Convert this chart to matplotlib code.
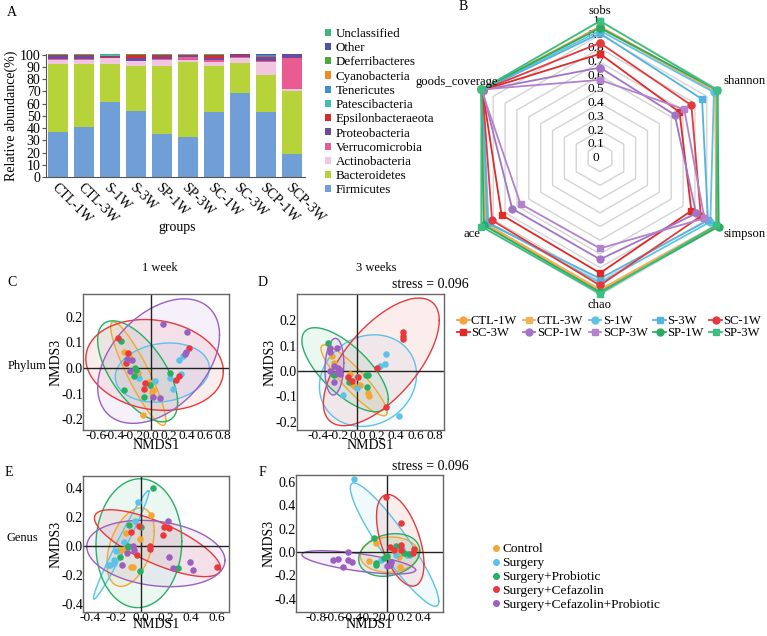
import numpy as np
import matplotlib
matplotlib.use('Agg')
import matplotlib.pyplot as plt
from matplotlib.lines import Line2D

plt.rcParams['font.family'] = ['Liberation Serif', 'DejaVu Serif']
plt.rcParams['axes.unicode_minus'] = False

# ---------------- Panel A data ----------------
groups = ['CTL-1W', 'CTL-3W', 'S-1W', 'S-3W', 'SP-1W', 'SP-3W', 'SC-1W', 'SC-3W', 'SCP-1W', 'SCP-3W']
phyla = ['Firmicutes', 'Bacteroidetes', 'Actinobacteria', 'Verrucomicrobia', 'Proteobacteria',
         'Epsilonbacteraeota', 'Patescibacteria', 'Tenericutes', 'Cyanobacteria',
         'Deferribacteres', 'Other', 'Unclassified']
firmicutes = [37.0, 41.0, 61.0, 54.0, 35.5, 33.0, 53.0, 69.0, 53.0, 19.0]
bacteroidetes = [55.5, 51.5, 31.0, 37.0, 55.5, 61.0, 38.0, 24.0, 30.0, 51.0]
actinobacteria = [3.0, 3.0, 5.0, 3.5, 4.5, 1.5, 3.0, 4.0, 11.0, 1.5]
verrucomicrobia = [1.0, 1.0, 0.5, 0.5, 1.0, 2.5, 1.5, 1.0, 0.5, 26.0]
proteobacteria = [2.0, 2.0, 0.5, 2.5, 1.5, 0.5, 2.0, 1.0, 2.5, 2.0]
epsilonbacteraeota = [1.2, 1.2, 1.0, 2.0, 1.5, 1.0, 2.0, 0.5, 1.0, 0.3]
patescibacteria = [0.1, 0.1, 0.6, 0.4, 0.2, 0.6, 0.2, 0.2, 0.3, 0.1]
tenericutes = [0.05, 0.05, 0.1, 0.1, 0.1, 0.1, 0.1, 0.1, 1.5, 0.05]
cyanobacteria = [0.05] * 10
deferribacteres = [0.05] * 10
other = [0.1, 0.1, 0.1, 0.1, 0.1, 0.1, 0.1, 0.2, 0.3, 0.1]
unclassified = [0.05, 0.05, 0.3, 0.1, 0.1, 0.3, 0.1, 0.1, 0.1, 0.05]
phylum_values = [firmicutes, bacteroidetes, actinobacteria, verrucomicrobia, proteobacteria,
                 epsilonbacteraeota, patescibacteria, tenericutes, cyanobacteria,
                 deferribacteres, other, unclassified]
phylum_colors = ['#6f9fd6', '#b6d43a', '#f2c6e0', '#ea5b91', '#6b4aa0', '#d9282e',
                 '#3ec1b1', '#3d8fd0', '#f08a24', '#4aa83c', '#4f53a4', '#3fb57d']
abund_ticks = [0, 10, 20, 30, 40, 50, 60, 70, 80, 90, 100]

# ---------------- Panel B data ----------------
indices = ['sobs', 'shannon', 'simpson', 'chao', 'ace', 'goods_coverage']
series = ['CTL-1W', 'CTL-3W', 'S-1W', 'S-3W', 'SC-1W', 'SC-3W', 'SCP-1W', 'SCP-3W', 'SP-1W', 'SP-3W']
radar_values = [
    [0.96, 0.98, 0.99, 0.97, 0.97, 1.00],   # CTL-1W
    [0.95, 0.97, 0.98, 0.96, 0.96, 1.00],   # CTL-3W
    [0.93, 0.96, 0.93, 0.91, 0.94, 0.99],   # S-1W
    [0.91, 0.86, 0.91, 0.88, 0.95, 0.99],   # S-3W
    [0.84, 0.77, 0.85, 0.93, 0.91, 0.99],   # SC-1W
    [0.76, 0.67, 0.77, 0.84, 0.83, 0.99],   # SC-3W
    [0.66, 0.63, 0.81, 0.74, 0.74, 0.99],   # SCP-1W
    [0.57, 0.71, 0.88, 0.66, 0.67, 1.00],   # SCP-3W
    [0.95, 0.99, 1.00, 0.98, 0.98, 1.00],   # SP-1W
    [1.00, 0.99, 0.98, 0.99, 1.00, 1.00],   # SP-3W
]
radar_colors = ['#f3a43f', '#eeb25c', '#5ec3e6', '#55b3df', '#e5393e', '#e02a2a',
                '#a274c6', '#b283cc', '#2bab62', '#3cbf82']
radar_markers = ['o', 's'] * 5
radar_ticks = [0, 0.1, 0.2, 0.3, 0.4, 0.5, 0.6, 0.7, 0.8, 0.9, 1.0]
radar_ticklabels = ['0', '0.1', '0.2', '0.3', '0.4', '0.5', '0.6', '0.7', '0.8', '0.9', '1']

# ---------------- NMDS data ----------------
treat = ['Control', 'Surgery', 'Surgery+Probiotic', 'Surgery+Cefazolin', 'Surgery+Cefazolin+Probiotic']
treat_colors = ['#f2a735', '#5dc2e7', '#27b064', '#e8393c', '#9b5fc0']

# C: Phylum, 1 week
phy1_x = [[-0.30, -0.237, -0.144, -0.022, 0.022, 0.015, -0.081],
          [-0.126, 0.052, 0.356, 0.311, 0.341, 0.219, 0.244],
          [-0.33, -0.17, -0.163, -0.181, -0.004, -0.293, -0.07, 0.219],
          [-0.36, -0.256, -0.274, -0.059, -0.078, 0.422, 0.319, 0.281],
          [-0.263, -0.211, -0.226, 0.022, 0.107, 0.133, 0.404, 0.393, 0.385]]
phy1_y = [[0.063, 0.046, -0.020, -0.055, -0.085, -0.094, -0.183],
          [-0.039, -0.052, 0.046, 0.030, -0.025, -0.038, -0.084],
          [0.105, 0.0, -0.007, -0.033, -0.065, -0.088, -0.114, -0.018],
          [0.119, 0.059, 0.021, -0.059, -0.081, 0.080, -0.031, -0.046],
          [0.037, 0.031, -0.013, -0.114, -0.118, 0.174, 0.141, 0.063, 0.054]]
# ellipse: centre x, centre y, half x-extent, half y-extent, correlation
phy1_ell = [[-0.137, -0.022, 0.306, 0.203, -0.90],
            [0.13, -0.018, 0.522, 0.116, 0.15],
            [-0.144, -0.013, 0.444, 0.198, -0.62],
            [0.044, 0.012, 0.763, 0.178, -0.14],
            [0.089, 0.027, 0.676, 0.244, 0.42]]

# D: Phylum, 3 weeks
phy3_x = [[-0.263, -0.236, -0.075, -0.051, -0.031, 0.027, 0.106, 0.12],
          [0.0, 0.0, -0.144, 0.232, 0.284, 0.29, 0.431],
          [-0.304, -0.253, -0.236, 0.089, 0.106, 0.096, -0.082],
          [-0.092, -0.058, 0.01, 0.198, 0.472, 0.472, 0.465, 0.294],
          [-0.28, -0.28, -0.205, -0.239, -0.202, -0.178, -0.178, -0.212, -0.28, -0.236]]
phy3_y = [[0.059, 0.030, -0.013, -0.051, -0.059, -0.055, -0.086, -0.099],
          [-0.022, -0.068, -0.095, 0.021, 0.028, 0.066, -0.178],
          [0.112, -0.012, -0.017, -0.016, -0.016, -0.064, -0.042],
          [-0.022, -0.039, -0.022, 0.011, 0.155, 0.138, 0.125, -0.141],
          [0.089, 0.076, 0.089, 0.02, 0.011, 0.004, -0.012, -0.009, 0.0, -0.042]]
phy3_ell = [[-0.034, -0.037, 0.340, 0.140, -0.90],
            [0.109, -0.038, 0.499, 0.181, 0.13],
            [-0.126, 0.005, 0.444, 0.166, -0.70],
            [0.246, 0.036, 0.595, 0.252, 0.65],
            [-0.236, 0.017, 0.097, 0.112, 0.12]]

# E: Genus, 1 week
gen1_x = [[0.079, -0.119, -0.005, -0.138, -0.164, -0.077, -0.066],
          [-0.024, -0.045, -0.138, -0.198, -0.217, -0.262, -0.243, -0.217],
          [0.095, -0.098, 0.0, -0.103, -0.106, -0.164, 0.291, -0.005],
          [-0.019, -0.077, 0.180, 0.225, 0.175, 0.069, 0.074, -0.032, 0.603],
          [0.214, -0.063, -0.058, -0.111, 0.220, -0.151, 0.392, 0.410, 0.254]]
gen1_y = [[0.214, 0.087, 0.046, -0.023, -0.032, -0.149, -0.147],
          [0.301, 0.168, 0.023, -0.034, -0.097, -0.131, -0.131, -0.120],
          [0.398, 0.145, 0.126, 0.0, -0.009, -0.074, -0.154, -0.170],
          [0.133, 0.092, 0.129, 0.120, 0.076, 0.0, -0.023, -0.062, -0.143],
          [0.172, 0.0, -0.028, -0.051, -0.074, -0.131, -0.108, -0.166, -0.154]]
gen1_ell = [[-0.082, -0.009, 0.188, 0.270, 0.41],
            [-0.156, 0.007, 0.221, 0.374, 0.98],
            [-0.016, 0.018, 0.341, 0.443, 0.03],
            [0.132, 0.018, 0.501, 0.230, -0.75],
            [0.119, -0.053, 0.549, 0.228, -0.21]]

# F: Genus, 3 weeks
gen3_x = [[-0.132, 0.113, 0.0, 0.132, -0.208, 0.143],
          [-0.370, 0.170, 0.094, 0.226, 0.257, -0.075],
          [-0.151, 0.094, 0.245, 0.189, -0.038, 0.0, -0.132, -0.121],
          [-0.019, 0.151, 0.030, 0.151, 0.302, 0.158, 0.075, 0.294],
          [0.038, 0.030, 0.0, -0.611, -0.555, -0.498, -0.442, -0.442, -0.396]]
gen3_y = [[0.077, -0.009, -0.031, -0.043, -0.080, -0.131],
          [0.626, 0.029, -0.023, -0.023, -0.029, -0.066],
          [0.12, 0.049, -0.014, -0.009, -0.051, -0.037, -0.094, -0.114],
          [0.469, 0.249, 0.043, 0.063, 0.026, 0.014, 0.014, -0.009],
          [-0.086, -0.109, -0.117, -0.071, -0.060, -0.129, 0.0, -0.071, -0.089]]
gen3_ell = [[0.026, -0.023, 0.330, 0.151, 0.05],
            [0.083, 0.063, 0.5, 0.529, -0.92],
            [0.023, -0.026, 0.345, 0.183, 0.2],
            [0.147, 0.1, 0.268, 0.393, -0.52],
            [-0.321, -0.089, 0.642, 0.1, -0.66]]

phy1_xticks = [-0.6, -0.4, -0.2, 0.0, 0.2, 0.4, 0.6, 0.8]
phy1_yticks = [-0.2, -0.1, 0.0, 0.1, 0.2]
phy3_xticks = [-0.4, -0.2, 0.0, 0.2, 0.4, 0.6, 0.8]
phy3_yticks = [-0.2, -0.1, 0.0, 0.1, 0.2]
gen1_xticks = [-0.4, -0.2, 0.0, 0.2, 0.4, 0.6]
gen1_yticks = [-0.4, -0.2, 0.0, 0.2, 0.4]
gen3_xticks = [-0.8, -0.6, -0.4, -0.2, 0.0, 0.2, 0.4]
gen3_yticks = [-0.4, -0.2, 0.0, 0.2, 0.4, 0.6]
stress_text = 'stress = 0.096'

# ---------------- figure ----------------
W, H = 767, 636
fig = plt.figure(figsize=(W / 100, H / 100), dpi=100)


def px_axes(x0, y0, x1, y1):
    return fig.add_axes([x0 / W, 1 - y1 / H, (x1 - x0) / W, (y1 - y0) / H])


FS = 10

# ---- Panel A ----
axA = px_axes(46, 54, 305, 177)
xpos = np.arange(len(groups))
bottom = np.zeros(len(groups))
bar_handles = []
for name, vals, col in zip(phyla, phylum_values, phylum_colors):
    b = axA.bar(xpos, vals, 0.77, bottom=bottom, color=col, label=name, linewidth=0)
    bar_handles.append(b)
    bottom += np.array(vals)
axA.set_xlim(-0.46, 9.5)
axA.set_ylim(0, 100.5)
axA.set_yticks(abund_ticks)
axA.set_yticklabels([str(t) for t in abund_ticks], fontsize=FS)
axA.set_xticks(xpos)
axA.set_xticklabels(groups, rotation=-45, ha='left', va='top', rotation_mode='anchor', fontsize=FS)
axA.tick_params(axis='y', length=3, pad=1, color='#555555')
axA.tick_params(axis='x', length=0, pad=3)
for s in ['top', 'right']:
    axA.spines[s].set_visible(False)
for s in ['left', 'bottom']:
    axA.spines[s].set_color('#555555')
axA.set_ylabel('Relative abundance(%)', fontsize=FS, labelpad=1)
fig.text(177 / W, 1 - 228 / H, 'groups', ha='center', va='center', fontsize=FS)
fig.legend(bar_handles[::-1], phyla[::-1], loc='upper left', bbox_to_anchor=(325 / W, 1 - 28 / H),
           frameon=False, fontsize=9.4, handlelength=0.45, handleheight=0.45, handletextpad=0.35,
           labelspacing=0.17, borderpad=0, borderaxespad=0)

# ---- Panel B (radar) ----
R = 137.0
cxp, cyp = 600, 158
axB = px_axes(cxp - 165, cyp - 165, cxp + 165, cyp + 165)
axB.set_xlim(-165 / R, 165 / R)
axB.set_ylim(-165 / R, 165 / R)
axB.axis('off')
axB.patch.set_alpha(0)
ang = np.deg2rad(90 - 60 * np.arange(len(indices)))
ang_c = np.append(ang, ang[0])
for v in radar_ticks[1:]:
    axB.plot(v * np.cos(ang_c), v * np.sin(ang_c), color='#d4d4d4', lw=1.0, zorder=1)
for v, lab in zip(radar_ticks, radar_ticklabels):
    axB.text(-0.03, v, lab, ha='center', va='center', fontsize=9.6, zorder=2)
radar_handles = []
for vals, col, mk, name in zip(radar_values, radar_colors, radar_markers, series):
    r = np.append(vals, vals[0])
    h, = axB.plot(r * np.cos(ang_c), r * np.sin(ang_c), color=col, lw=1.3, marker=mk,
                  markersize=5, zorder=3, label=name)
    radar_handles.append(h)
lab_pos = [(0, 1.07, 'center'), (0.9, 0.56, 'left'), (0.9, -0.555, 'left'),
           (0, -1.075, 'center'), (-0.876, -0.555, 'right'), (-0.745, 0.555, 'right')]
for name, (lx, ly, ha) in zip(indices, lab_pos):
    axB.text(lx, ly, name, ha=ha, va='center', fontsize=9.1, zorder=4)
order = [0, 5, 1, 6, 2, 7, 3, 8, 4, 9]
fig.legend([radar_handles[i] for i in order], [series[i] for i in order], ncol=5,
           loc='upper left', bbox_to_anchor=(457 / W, 1 - 315 / H), frameon=False, fontsize=9.1,
           handlelength=1.0, handletextpad=0.1, columnspacing=0.45, labelspacing=0.0,
           borderpad=0, borderaxespad=0)


# ---- NMDS panels ----
def nmds(ax, xs, ys, ells, xticks, yticks, xlim, ylim, xlabelpad):
    t = np.linspace(0, 2 * np.pi, 240)
    for (cx, cy, sx, sy, rho), col in zip(ells, treat_colors):
        ex = cx + sx * np.cos(t)
        ey = cy + sy * (rho * np.cos(t) + np.sqrt(1 - rho ** 2) * np.sin(t))
        ax.fill(ex, ey, color=col, alpha=0.09, lw=0, zorder=1)
        ax.plot(ex, ey, color=col, lw=1.0, zorder=2)
    ax.axhline(0, color='#222222', lw=1.0, zorder=2.5)
    ax.axvline(0, color='#222222', lw=1.0, zorder=2.5)
    for x, y, col in zip(xs, ys, treat_colors):
        ax.scatter(x, y, s=22, color=col, zorder=3, linewidths=0)
    ax.set_xlim(*xlim)
    ax.set_ylim(*ylim)
    ax.set_xticks(xticks)
    ax.set_xticklabels(['%.1f' % v for v in xticks], fontsize=9.6)
    ax.set_yticks(yticks)
    ax.set_yticklabels(['%.1f' % v for v in yticks], fontsize=FS)
    ax.tick_params(length=0, pad=0)
    for s in ax.spines.values():
        s.set_color('#666666')
        s.set_linewidth(1.0)
    ax.set_xlabel('NMDS1', fontsize=FS, labelpad=xlabelpad)
    ax.set_ylabel('NMDS3', fontsize=FS, labelpad=-1)


axC = px_axes(83, 294, 229, 430)
nmds(axC, phy1_x, phy1_y, phy1_ell, phy1_xticks, phy1_yticks, (-0.75, 0.87), (-0.243, 0.29), -2.5)
axD = px_axes(297, 294, 444, 430)
nmds(axD, phy3_x, phy3_y, phy3_ell, phy3_xticks, phy3_yticks, (-0.62, 0.89), (-0.233, 0.304), -2.5)
axE = px_axes(83, 476, 229, 612)
nmds(axE, gen1_x, gen1_y, gen1_ell, gen1_xticks, gen1_yticks, (-0.46, 0.70), (-0.455, 0.48), -4.5)
axF = px_axes(296, 475, 443, 612)
nmds(axF, gen3_x, gen3_y, gen3_ell, gen3_xticks, gen3_yticks, (-1.03, 0.63), (-0.515, 0.66), -4.5)

fig.text(160 / W, 1 - 268 / H, '1 week', ha='center', va='center', fontsize=9)
fig.text(376 / W, 1 - 268 / H, '3 weeks', ha='center', va='center', fontsize=9)
fig.text(392 / W, 1 - 284 / H, stress_text, ha='left', va='center', fontsize=FS)
fig.text(392 / W, 1 - 467 / H, stress_text, ha='left', va='center', fontsize=FS)
fig.text(8 / W, 1 - 366 / H, 'Phylum', ha='left', va='center', fontsize=9)
fig.text(7 / W, 1 - 538 / H, 'Genus', ha='left', va='center', fontsize=9)

for lab, x, y in [('A', 12, 13), ('B', 463, 7), ('C', 12, 282), ('D', 263, 282), ('E', 9, 473), ('F', 262, 473)]:
    fig.text(x / W, 1 - y / H, lab, ha='center', va='center', fontsize=FS)

treat_handles = [Line2D([], [], ls='', marker='o', markersize=4, color=c) for c in treat_colors]
fig.legend(treat_handles, treat, loc='upper left', bbox_to_anchor=(493 / W, 1 - 543 / H),
           frameon=False, fontsize=9.6, handlelength=0.5, handletextpad=0.2, labelspacing=0.12,
           borderpad=0, borderaxespad=0)

fig.savefig('out.png', dpi=100)
